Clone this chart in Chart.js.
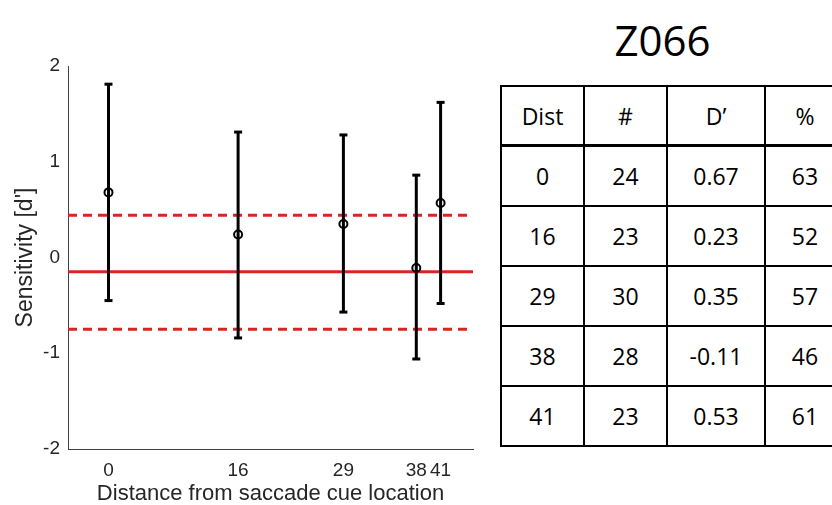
<!DOCTYPE html>
<html>
<head>
<meta charset="utf-8">
<script src="https://cdn.jsdelivr.net/npm/chart.js@4/dist/chart.umd.min.js"></script>
<style>
  html, body { margin: 0; padding: 0; background: #fff; overflow: hidden; width: 832px; height: 505px; }
  #plot { position: absolute; left: 0; top: 0; width: 480px; height: 505px; }
  #title { position: absolute; left: 560px; width: 205px; top: 12px; text-align: center;
           font-family: "Open Sans", sans-serif; font-size: 42px; line-height: 56px; color: #000; }
  #stats { position: absolute; left: 500px; top: 85px; border-collapse: collapse; table-layout: fixed; width: 344px;
           font-family: "Open Sans", sans-serif; font-size: 23px; color: #000; }
  #stats td, #stats th { border: 2px solid #000; text-align: center; font-weight: normal; padding: 0; height: 58px; }
  #stats th { border-bottom-width: 3px; height: 57px; }
</style>
</head>
<body>
<div id="plot"><canvas id="sens"></canvas></div>
<div id="title">Z066</div>
<table id="stats"></table>
<script>
// plotted values
const dist = [0, 16, 29, 38, 41];
const dPrime = [0.68, 0.24, 0.35, -0.11, 0.57];
const errLow = [-0.45, -0.84, -0.57, -1.06, -0.48];
const errHigh = [1.81, 1.31, 1.28, 0.86, 1.62];

// red reference lines
const chanceMean = -0.15;
const chanceLow = -0.75;
const chanceHigh = 0.44;

const xRange = [-5, 45];
const yTicks = [-2, -1, 0, 1, 2];

// table
const tableHead = ['Dist', '#', 'D\u2019', '%'];
const tableN = [24, 23, 30, 28, 23];
const tableD = ['0.67', '0.23', '0.35', '-0.11', '0.53'];
const tablePct = [63, 52, 57, 46, 61];
const colWidths = [83, 83, 98, 80];

const table = document.getElementById('stats');
let html = '<colgroup>' + colWidths.map(w => '<col style="width:' + w + 'px">').join('') + '</colgroup>';
html += '<tr>' + tableHead.map(h => '<th>' + h + '</th>').join('') + '</tr>';
dist.forEach((d, i) => {
  html += '<tr><td>' + d + '</td><td>' + tableN[i] + '</td><td>' + tableD[i] + '</td><td>' + tablePct[i] + '</td></tr>';
});
table.innerHTML = html;

const red = '#dc2323';
const hline = (y) => [{ x: xRange[0], y: y }, { x: xRange[1], y: y }];

const datasets = [];
dist.forEach((d, i) => {
  datasets.push({
    data: [{ x: d, y: errLow[i] }, { x: d, y: errHigh[i] }],
    showLine: true,
    borderColor: '#000',
    borderWidth: 3,
    pointStyle: 'line',
    pointRadius: 4,
    pointBorderWidth: 3,
    pointBorderColor: '#000',
    order: 0
  });
});
datasets.push({
  data: dist.map((d, i) => ({ x: d, y: dPrime[i] })),
  showLine: false,
  pointStyle: 'circle',
  pointRadius: 4,
  pointBorderWidth: 2,
  pointBorderColor: '#000',
  pointBackgroundColor: 'rgba(0,0,0,0)',
  order: 0
});
datasets.push({ data: hline(chanceMean), showLine: true, borderColor: red, borderWidth: 3, pointRadius: 0, order: 1 });
datasets.push({ data: hline(chanceHigh), showLine: true, borderColor: red, borderWidth: 3, borderDash: [9, 6], pointRadius: 0, order: 1 });
datasets.push({ data: hline(chanceLow), showLine: true, borderColor: red, borderWidth: 3, borderDash: [9, 6], pointRadius: 0, order: 1 });

const axisFont = { family: '"Liberation Sans", Arial, sans-serif', size: 19 };
const labelFont = { family: '"Liberation Sans", Arial, sans-serif', size: 22, lineHeight: 1 };

new Chart(document.getElementById('sens'), {
  type: 'scatter',
  data: { datasets: datasets },
  options: {
    responsive: true,
    maintainAspectRatio: false,
    animation: false,
    layout: { padding: { top: 66, right: 7, left: 0, bottom: 0 } },
    plugins: { legend: { display: false }, tooltip: { enabled: false } },
    scales: {
      x: {
        type: 'linear',
        min: xRange[0],
        max: xRange[1],
        afterBuildTicks: (scale) => { scale.ticks = dist.map(v => ({ value: v })); },
        afterFit: (scale) => { scale.height = 56; },
        ticks: { autoSkip: false, maxRotation: 0, color: '#262626', font: axisFont, padding: 10 },
        grid: { display: false, drawTicks: false },
        border: { display: true, color: '#404040', width: 1 },
        title: { display: true, text: 'Distance from saccade cue location', color: '#262626', font: labelFont, padding: { top: 0, bottom: 0 } }
      },
      y: {
        min: -2,
        max: 2,
        afterBuildTicks: (scale) => { scale.ticks = yTicks.map(v => ({ value: v })); },
        afterFit: (scale) => { scale.width = 68; },
        ticks: { color: '#262626', font: axisFont, padding: 8 },
        grid: { display: false, drawTicks: false },
        border: { display: true, color: '#404040', width: 1 },
        title: { display: true, text: "Sensitivity [d']", color: '#262626', font: { family: '"Liberation Sans", Arial, sans-serif', size: 23, lineHeight: 1 }, padding: { top: 14, bottom: 0 } }
      }
    }
  }
});
</script>
</body>
</html>
